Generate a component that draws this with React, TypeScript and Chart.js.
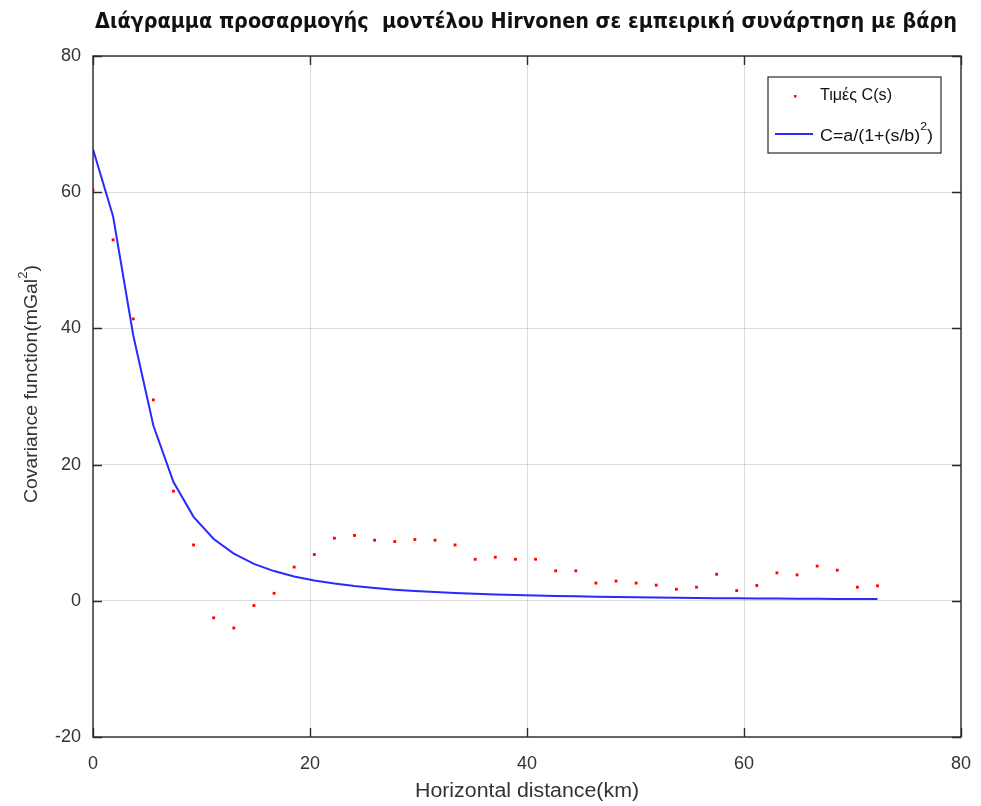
import React, { useEffect, useRef } from "react";
import { Chart, registerables } from "chart.js";

Chart.register(...registerables);

// Horizontal distance of each lag (km)
const distances = [
  0, 1.854, 3.708, 5.562, 7.416, 9.27, 11.124, 12.978, 14.832, 16.686,
  18.54, 20.394, 22.248, 24.102, 25.956, 27.81, 29.664, 31.518, 33.372, 35.226,
  37.08, 38.934, 40.788, 42.642, 44.496, 46.35, 48.204, 50.058, 51.912, 53.766,
  55.62, 57.474, 59.328, 61.182, 63.036, 64.89, 66.744, 68.598, 70.452, 72.306,
];

// Empirical covariance values C(s) (mGal^2)
const empirical = [
  60.3, 53.0, 41.4, 29.5, 16.1, 8.2, -2.5, -4.0, -0.7, 1.1,
  4.95, 6.8, 9.2, 9.6, 8.9, 8.7, 9.0, 8.9, 8.2, 6.1,
  6.4, 6.1, 6.1, 4.4, 4.4, 2.6, 2.9, 2.6, 2.3, 1.7,
  2.0, 3.9, 1.5, 2.25, 4.1, 3.8, 5.1, 4.5, 2.0, 2.2,
];

// Fitted Hirvonen model values at the same distances
const fitted = [
  66.3, 56.42, 38.99, 25.73, 17.44, 12.33, 9.08, 6.92, 5.43, 4.365,
  3.58, 2.99, 2.53, 2.17, 1.88, 1.64, 1.446, 1.284, 1.148, 1.032,
  0.933, 0.847, 0.773, 0.708, 0.651, 0.6, 0.555, 0.515, 0.479, 0.447,
  0.418, 0.392, 0.368, 0.346, 0.326, 0.308, 0.291, 0.275, 0.261, 0.248,
];

const xTicks = [0, 20, 40, 60, 80];
const yTicks = [-20, 0, 20, 40, 60, 80];

const titleText =
  "Διάγραμμα προσαρμογής  μοντέλου Hirvonen σε εμπειρική συνάρτηση με βάρη";
const xTitle = "Horizontal distance(km)";
const yTitleBase = "Covariance function(mGal";
const legendPoints = "Τιμές C(s)";
const legendCurveBase = "C=a/(1+(s/b)";

const FONT = '"Liberation Sans", Arial, sans-serif';
const TITLE_FONT = '"DejaVu Sans", "Liberation Sans", sans-serif';
const TEXT = "#333333";
const FRAME = "#2a2a2a";
const BLUE = "#2a2aff";

type Piece = { text: string; font: string; dy: number };

// Draws a run of text pieces left-aligned at (x, y), stretched horizontally
// so that the whole run spans `width` pixels.
function drawRun(ctx: CanvasRenderingContext2D, pieces: Piece[], x: number, y: number, width: number) {
  let natural = 0;
  const widths = pieces.map((p) => {
    ctx.font = p.font;
    const w = ctx.measureText(p.text).width;
    natural += w;
    return w;
  });
  const sx = width / natural;
  ctx.save();
  ctx.translate(x, y);
  ctx.scale(sx, 1);
  ctx.textAlign = "left";
  let cx = 0;
  pieces.forEach((p, i) => {
    ctx.font = p.font;
    ctx.fillText(p.text, cx, p.dy);
    cx += widths[i];
  });
  ctx.restore();
}

const decorations = {
  id: "decorations",
  afterDraw(chart: any) {
    const { ctx, chartArea } = chart;
    const { left, right, top, bottom } = chartArea;
    const xs = chart.scales.x;
    const ys = chart.scales.y;
    ctx.save();

    // frame
    ctx.strokeStyle = FRAME;
    ctx.lineWidth = 1.4;
    ctx.strokeRect(left, top, right - left, bottom - top);

    // inward tick marks
    const tl = 9;
    ctx.beginPath();
    for (const v of xTicks) {
      const px = Math.round(xs.getPixelForValue(v)) + 0.5;
      ctx.moveTo(px, bottom);
      ctx.lineTo(px, bottom - tl);
      ctx.moveTo(px, top);
      ctx.lineTo(px, top + tl);
    }
    for (const v of yTicks) {
      const py = Math.round(ys.getPixelForValue(v)) + 0.5;
      ctx.moveTo(left, py);
      ctx.lineTo(left + tl, py);
      ctx.moveTo(right, py);
      ctx.lineTo(right - tl, py);
    }
    ctx.stroke();

    // title
    ctx.fillStyle = "#111111";
    ctx.textBaseline = "alphabetic";
    drawRun(ctx, [{ text: titleText, font: `bold 21px ${TITLE_FONT}`, dy: 0 }], 95, 28, 862);

    // x axis title
    ctx.fillStyle = TEXT;
    ctx.textBaseline = "middle";
    drawRun(ctx, [{ text: xTitle, font: `20px ${FONT}`, dy: 0 }], 415, 791, 224);

    // y axis title with superscript
    ctx.save();
    ctx.translate(32, 503);
    ctx.rotate(-Math.PI / 2);
    drawRun(
      ctx,
      [
        { text: yTitleBase, font: `19px ${FONT}`, dy: 0 },
        { text: "2", font: `13px ${FONT}`, dy: -9 },
        { text: ")", font: `19px ${FONT}`, dy: 0 },
      ],
      0,
      0,
      238
    );
    ctx.restore();

    // legend box
    const bx = 768, by = 77, bw = 173, bh = 76;
    ctx.fillStyle = "#ffffff";
    ctx.fillRect(bx, by, bw, bh);
    ctx.strokeStyle = FRAME;
    ctx.lineWidth = 1.2;
    ctx.strokeRect(bx, by, bw, bh);

    ctx.fillStyle = "#ff0000";
    ctx.fillRect(794, 95, 2.5, 2.5);

    ctx.fillStyle = "#111111";
    ctx.textBaseline = "middle";
    drawRun(ctx, [{ text: legendPoints, font: `16px ${FONT}`, dy: 0 }], 820, 96, 72);

    ctx.strokeStyle = BLUE;
    ctx.lineWidth = 2;
    ctx.beginPath();
    ctx.moveTo(775, 134);
    ctx.lineTo(813, 134);
    ctx.stroke();

    ctx.fillStyle = "#111111";
    drawRun(
      ctx,
      [
        { text: legendCurveBase, font: `16px ${FONT}`, dy: 0 },
        { text: "2", font: `11px ${FONT}`, dy: -10 },
        { text: ")", font: `16px ${FONT}`, dy: 0 },
      ],
      820,
      137,
      113
    );

    ctx.restore();
  },
};

export default function App() {
  const canvasRef = useRef<HTMLCanvasElement | null>(null);

  useEffect(() => {
    const canvas = canvasRef.current;
    if (!canvas) return;
    const chart = new Chart(canvas, {
      type: "scatter",
      data: {
        datasets: [
          {
            label: legendCurveBase,
            type: "line",
            data: distances.map((x, i) => ({ x, y: fitted[i] })),
            borderColor: BLUE,
            borderWidth: 2,
            pointRadius: 0,
            fill: false,
            tension: 0,
            order: 0,
          },
          {
            label: legendPoints,
            data: distances.map((x, i) => ({ x, y: empirical[i] })),
            backgroundColor: "#ff0000",
            borderColor: "#ff0000",
            pointStyle: "rect",
            pointRadius: 2,
            borderWidth: 0,
            order: 1,
          },
        ],
      },
      options: {
        responsive: false,
        animation: false,
        layout: { padding: { left: 0, right: 20, top: 56, bottom: 0 } },
        plugins: {
          legend: { display: false },
          title: { display: false },
          tooltip: { enabled: false },
        },
        scales: {
          x: {
            type: "linear",
            min: 0,
            max: 80,
            afterBuildTicks: (s: any) => {
              s.ticks = xTicks.map((v) => ({ value: v }));
            },
            afterFit: (s: any) => {
              s.height = 69;
              s.paddingLeft = 0;
              s.paddingRight = 0;
            },
            grid: { color: "rgba(0,0,0,0.14)", drawTicks: false, lineWidth: 1 },
            border: { display: false },
            ticks: {
              color: TEXT,
              font: { family: FONT, size: 18 },
              padding: 16,
              maxRotation: 0,
            },
          },
          y: {
            type: "linear",
            min: -20,
            max: 80,
            afterBuildTicks: (s: any) => {
              s.ticks = yTicks.map((v) => ({ value: v }));
            },
            afterFit: (s: any) => {
              s.width = 93;
              s.paddingTop = 0;
              s.paddingBottom = 0;
            },
            grid: { color: "rgba(0,0,0,0.14)", drawTicks: false, lineWidth: 1 },
            border: { display: false },
            ticks: {
              color: TEXT,
              font: { family: FONT, size: 18 },
              padding: 12,
            },
          },
        },
      },
      plugins: [decorations],
    });
    return () => chart.destroy();
  }, []);

  return (
    <div style={{ position: "fixed", left: 0, top: 0, width: 981, height: 806, background: "#ffffff" }}>
      <canvas ref={canvasRef} width={981} height={806} style={{ display: "block" }} />
    </div>
  );
}
